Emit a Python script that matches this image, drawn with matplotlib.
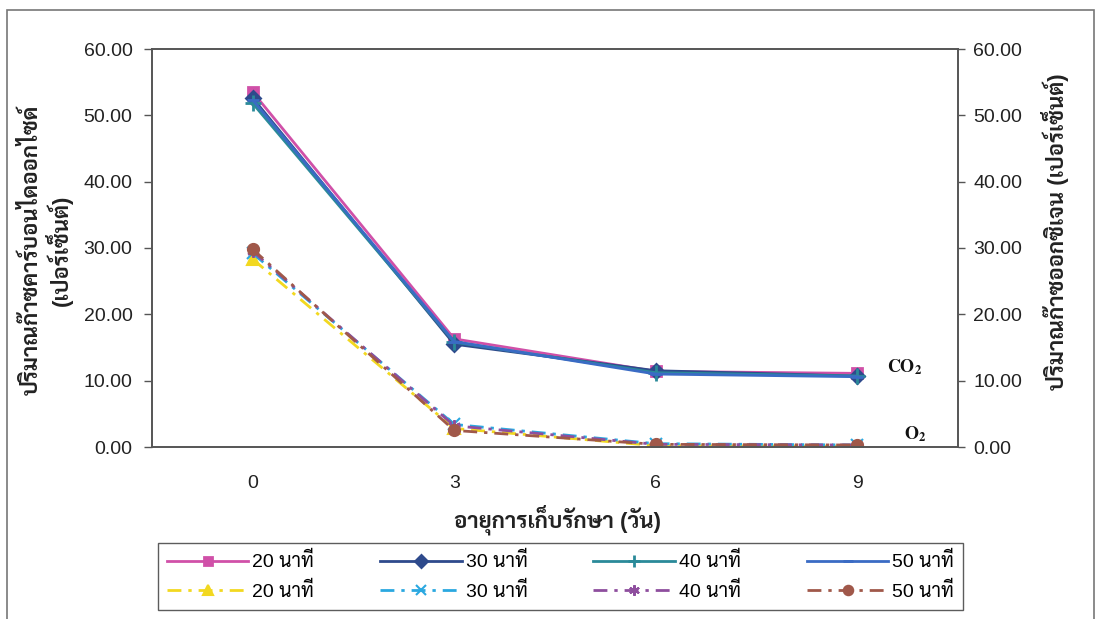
import matplotlib
matplotlib.use("Agg")
import matplotlib.pyplot as plt
from matplotlib.patches import Rectangle

plt.rcParams['font.family'] = ['Liberation Sans', 'Sarabun', 'Noto Sans Thai', 'DejaVu Sans']
plt.rcParams['mathtext.fontset'] = 'stix'

# ---- data ----
days = ['0', '3', '6', '9']
times = ['20 นาที', '30 นาที', '40 นาที', '50 นาที']

co2_20 = [53.5, 16.3, 11.4, 11.1]
co2_30 = [52.6, 15.5, 11.5, 10.7]
co2_40 = [51.8, 15.8, 11.2, 10.7]
co2_50 = [52.3, 15.9, 11.0, 10.6]

o2_20 = [28.3, 2.8, 0.2, 0.1]
o2_30 = [29.2, 3.4, 0.5, 0.3]
o2_40 = [29.5, 3.2, 0.4, 0.3]
o2_50 = [29.8, 2.5, 0.4, 0.3]

co2_series = [co2_20, co2_30, co2_40, co2_50]
o2_series = [o2_20, o2_30, o2_40, o2_50]

co2_colors = ['#D050A8', '#2E4A8C', '#2A8A99', '#3A6BC4']
co2_markers = ['s', 'D', '+', '_']
co2_sizes = [7.5, 7, 11, 9]
o2_colors = ['#F2D820', '#2AA8E0', '#8E4E9E', '#A0584A']
o2_markers = ['^', 'x', (6, 2, 0), 'o']
o2_sizes = [8, 8, 9, 8]

fig = plt.figure(figsize=(10.98, 6.19), dpi=100)
W, H = 1098.0, 619.0
ax = fig.add_axes([152/W, 1-447/H, (958-152)/W, (447-49)/H])

x = list(range(len(days)))
co2_lines = []
for vals, c, m, ms in zip(co2_series, co2_colors, co2_markers, co2_sizes):
    ln, = ax.plot(x, vals, color=c, lw=2, marker=m, ms=ms, mew=2,
                  mfc=c, mec=c)
    co2_lines.append(ln)

o2_lines = []
for vals, c, m, ms in zip(o2_series, o2_colors, o2_markers, o2_sizes):
    ln, = ax.plot(x, vals, color=c, lw=2, marker=m, ms=ms, mew=1.5,
                  mfc=c, mec=c, dashes=(5, 2.5, 1.2, 2.5))
    o2_lines.append(ln)

ax.set_xlim(-0.5, 3.5)
ax.set_ylim(0, 60)
ax.set_xticks(x)
ax.set_xticklabels(days)
ax.set_yticks(range(0, 61, 10))
ax.set_yticklabels(['%.2f' % v for v in range(0, 61, 10)])
ax.tick_params(axis='x', length=0, labelsize=14, pad=20, colors='#222222')
ax.tick_params(axis='y', length=6, width=1, labelsize=14, pad=8, color='#555555',
               labelcolor='#222222')
for s in ax.spines.values():
    s.set_color('#555555')
    s.set_linewidth(1.2)

ax2 = ax.twinx()
ax2.set_ylim(0, 60)
ax2.set_yticks(range(0, 61, 10))
ax2.set_yticklabels(['%.2f' % v for v in range(0, 61, 10)])
ax2.tick_params(axis='y', length=5, width=1, labelsize=14, pad=6, color='#555555',
                labelcolor='#222222')
for s in ax2.spines.values():
    s.set_color('#555555')
    s.set_linewidth(1.2)

# gas labels
ax.text(3.15, 12.0, r'$\mathbf{CO_2}$', fontsize=13, color='#111111', va='center')
ax.text(3.23, 2.0, r'$\mathbf{O_2}$', fontsize=13, color='#111111', va='center')

# axis titles
fig.text(47/W, 1-250/H, 'ปริมาณก๊าซคาร์บอนไดออกไซด์\n(เปอร์เซ็นต์)', rotation=90,
         ha='center', va='center', multialignment='center', fontsize=16,
         fontweight='bold', color='#222222', linespacing=1.1)
fig.text(1055/W, 1-232/H, 'ปริมาณก๊าซออกซิเจน (เปอร์เซ็นต์)', rotation=90,
         ha='center', va='center', fontsize=16, fontweight='bold', color='#222222')
fig.text(557/W, 1-520/H, 'อายุการเก็บรักษา (วัน)', ha='center', va='center',
         fontsize=16, fontweight='bold', color='#222222')

# legend: row 1 CO2, row 2 O2
handles, labels = [], []
for i in range(4):
    handles += [co2_lines[i], o2_lines[i]]
    labels += [times[i], times[i]]
leg = fig.legend(handles, labels, loc='lower left', ncol=4, mode='expand',
                 bbox_to_anchor=(158/W, 1-610/H, (963-158)/W, (610-547)/H),
                 fontsize=14, frameon=True, fancybox=False, handlelength=4.2,
                 numpoints=1, borderaxespad=0, columnspacing=1.0,
                 handletextpad=0.2, labelspacing=0.55, borderpad=0.45,
                 markerscale=0.85)
leg.get_frame().set_edgecolor('#333333')
leg.get_frame().set_linewidth(1)

# outer chart frame
fig.patches.append(Rectangle((7/W, -0.05), (1094-7)/W, 1.05-10/H, transform=fig.transFigure,
                             fill=False, edgecolor='#777777', lw=1.2))

fig.savefig('out.png', dpi=100)
